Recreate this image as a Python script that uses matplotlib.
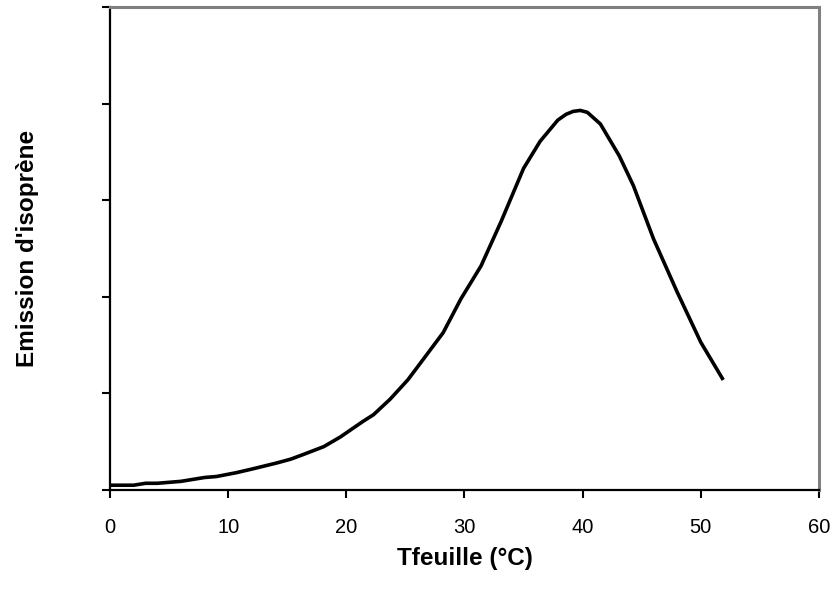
import matplotlib
matplotlib.use("Agg")
import matplotlib.pyplot as plt

# Température de la feuille (°C) et émission d'isoprène (unités arbitraires)
t_feuille = [0, 2, 3, 4, 6, 8, 9, 10.7, 12.1, 14.1, 15.3, 16.4, 18.1, 19.5,
             21.4, 22.3, 23.7, 25.2, 26.0, 27.1, 28.2, 29.7, 31.4, 33.1,
             35.0, 36.4, 37.9, 38.6, 39.2, 39.8, 40.4, 41.5, 43.1, 44.3,
             46.0, 48.0, 50.0, 51.9]
emission = [0.05, 0.05, 0.07, 0.07, 0.09, 0.13, 0.14, 0.18, 0.22, 0.28, 0.32,
            0.37, 0.45, 0.55, 0.71, 0.78, 0.94, 1.14, 1.27, 1.45, 1.63, 1.98,
            2.32, 2.78, 3.33, 3.61, 3.83, 3.89, 3.92, 3.93, 3.91, 3.79, 3.46,
            3.15, 2.60, 2.05, 1.53, 1.14]

x_ticks = [0, 10, 20, 30, 40, 50, 60]
y_ticks = [0, 1, 2, 3, 4, 5]

plt.rcParams["font.family"] = ["Liberation Sans", "DejaVu Sans"]

fig = plt.figure(figsize=(8.36, 5.89), dpi=100)
ax = fig.add_axes([0.1316, 0.168, 0.848, 0.820])

ax.plot(t_feuille, emission, color="black", linewidth=2.6,
        solid_joinstyle="round", solid_capstyle="butt")

ax.set_xlim(0, 60)
ax.set_ylim(0, 5)
ax.set_xticks(x_ticks)
ax.set_yticks(y_ticks)
ax.set_yticklabels([])
ax.tick_params(axis="both", direction="out", length=6, width=1.5, color="black")
ax.tick_params(axis="x", labelsize=14.5, pad=14)

for side in ["left", "bottom"]:
    ax.spines[side].set_color("black")
    ax.spines[side].set_linewidth(1.6)
for side in ["top", "right"]:
    ax.spines[side].set_color("#808080")
    ax.spines[side].set_linewidth(2.2)

ax.set_xlabel("Tfeuille (°C)", fontsize=17.5, fontweight="bold", labelpad=7)
ax.set_ylabel("Emission d'isoprène", fontsize=17.5, fontweight="bold")
ax.yaxis.set_label_coords(-0.100, 0.5)

fig.savefig("out.png", dpi=100)
